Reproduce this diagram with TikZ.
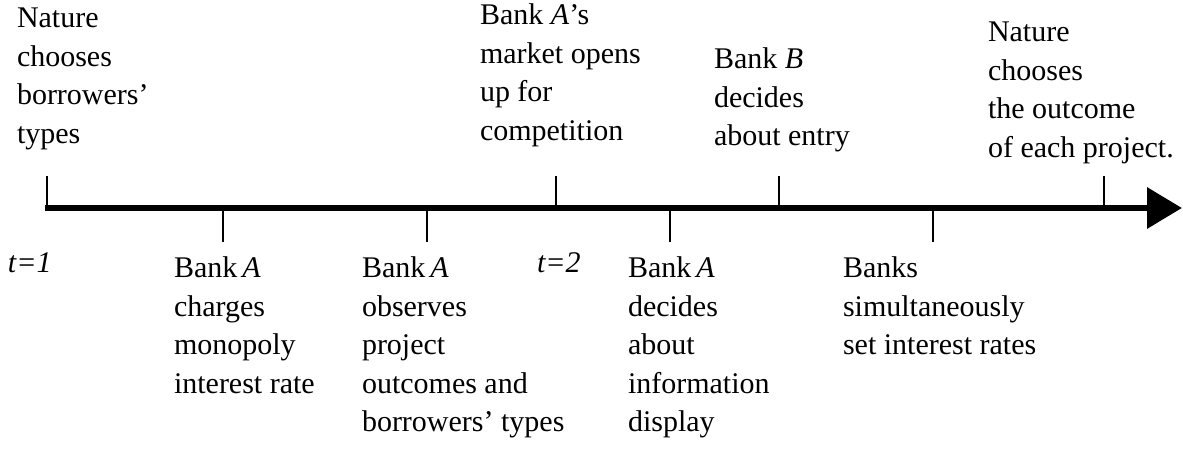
\documentclass[tikz,border=0pt]{standalone}
\usepackage{fontspec}
\setmainfont{Liberation Serif}
\usetikzlibrary{arrows.meta}
\tikzset{
  lbl/.style={anchor=north west, inner sep=0pt, outer sep=0pt, align=left,
    font=\fontsize{30}{38.5}\selectfont},
  tlbl/.style={anchor=base west, inner sep=0pt, outer sep=0pt,
    font=\fontsize{30}{38.5}\selectfont\itshape},
  axis/.style={line width=6.5pt, -{Triangle[length=35pt,width=40pt]}},
  tick/.style={line width=2pt}
}
\begin{document}
\begin{tikzpicture}[x=1pt,y=-1pt]
\useasboundingbox (0,0) rectangle (1183,455);
% axis
\coordinate (s) at (45,208);
\coordinate (e) at (1182,208);
\draw[axis] (s) -- (e);
% up ticks
\coordinate (u1) at (47,208);   \coordinate (u1t) at (47,176);
\coordinate (u2) at (556,208);  \coordinate (u2t) at (556,176);
\coordinate (u3) at (779,208);  \coordinate (u3t) at (779,176);
\coordinate (u4) at (1104,208); \coordinate (u4t) at (1104,176);
\foreach \i in {1,...,4} \draw[tick] (u\i) -- (u\i t);
% down ticks
\coordinate (d1) at (223,208);  \coordinate (d1b) at (223,242);
\coordinate (d2) at (427,208);  \coordinate (d2b) at (427,242);
\coordinate (d3) at (670,208);  \coordinate (d3b) at (670,242);
\coordinate (d4) at (933,208);  \coordinate (d4b) at (933,242);
\foreach \i in {1,...,4} \draw[tick] (d\i) -- (d\i b);
% top labels
\node[lbl] (n1) at (17,8) {Nature\\chooses\\borrowers'\\types};
\node[lbl] (n2) at (480,4) {Bank \textit{A}'s\\market opens\\up for\\competition};
\node[lbl] (n3) at (714,48) {Bank \textit{B}\\decides\\about entry};
\node[lbl] (n4) at (988,22) {Nature\\chooses\\the outcome\\of each project.};
% bottom labels
\node[tlbl] (t1) at (8,272) {t=1};
\node[tlbl] (t2) at (537,272) {t=2};
\node[lbl] (b1) at (174,257) {Bank\,\textit{A}\\charges\\monopoly\\interest rate};
\node[lbl] (b2) at (362,257) {Bank\,\textit{A}\\observes\\project\\outcomes and\\borrowers' types};
\node[lbl] (b3) at (628,257) {Bank\,\textit{A}\\decides\\about\\information\\display};
\node[lbl] (b4) at (843,257) {Banks\\simultaneously\\set interest rates};
\end{tikzpicture}
\end{document}
